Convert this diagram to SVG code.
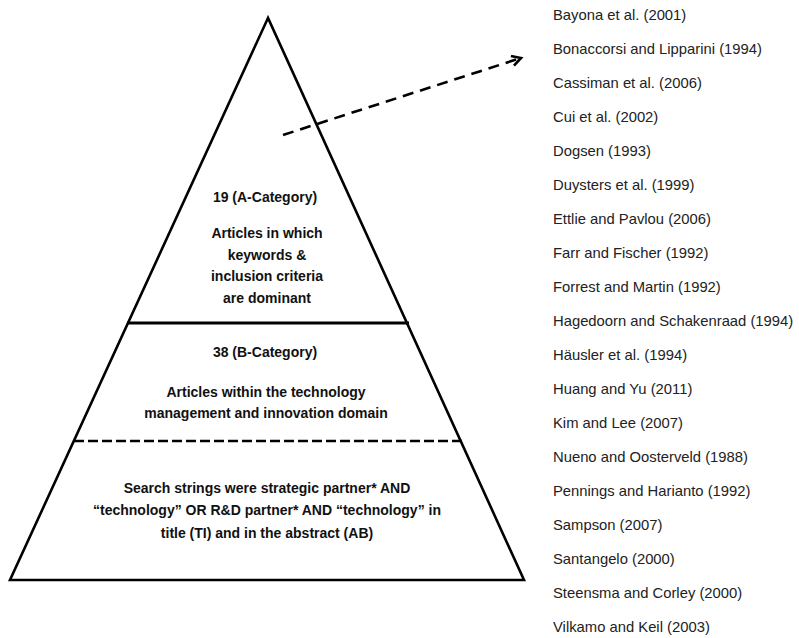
<svg xmlns="http://www.w3.org/2000/svg" width="799" height="638" viewBox="0 0 799 638">
<style>
.pt{font-family:"Liberation Sans",Arial,sans-serif;font-weight:bold;font-size:14px;fill:#111;text-anchor:middle}
.ls{font-family:"Liberation Sans",Arial,sans-serif;font-size:14.8px;fill:#222}
.edge{fill:none;stroke:#000;stroke-width:2.6;stroke-linejoin:miter}
</style>
<defs>
<marker id="ah" markerWidth="16" markerHeight="16" refX="11" refY="6" orient="auto" markerUnits="userSpaceOnUse">
<path d="M2,1 L11,6 L2,11" fill="none" stroke="#000" stroke-width="2.6"/>
</marker>
</defs>
<rect width="799" height="638" fill="#fff"/>
<g id="pyramid">
<polygon class="edge" points="268,18 10,580 524,580"/>
<line x1="127" y1="323" x2="409" y2="323" stroke="#000" stroke-width="3"/>
<line x1="74" y1="441" x2="462" y2="441" stroke="#000" stroke-width="2.6" stroke-dasharray="10,4"/>
</g>
<g id="a-category">
<text class="pt" x="265" y="202">19 (A-Category)</text>
<text class="pt" x="267" y="238">Articles in which</text>
<text class="pt" x="267" y="260">keywords &amp;</text>
<text class="pt" x="267" y="281">inclusion criteria</text>
<text class="pt" x="267" y="303">are dominant</text>
</g>
<g id="b-category">
<text class="pt" x="265" y="357">38 (B-Category)</text>
<text class="pt" x="266" y="397">Articles within the technology</text>
<text class="pt" x="266" y="418">management and innovation domain</text>
</g>
<g id="search">
<text class="pt" x="267" y="493">Search strings were strategic partner* AND</text>
<text class="pt" x="267" y="515">“technology” OR R&amp;D partner* AND “technology” in</text>
<text class="pt" x="267" y="538">title (TI) and in the abstract (AB)</text>
</g>
<g id="connectors">
<line x1="283" y1="135" x2="521" y2="58" stroke="#000" stroke-width="2.6" stroke-dasharray="11,7" marker-end="url(#ah)"/>
</g>
<g id="list">
<text class="ls" x="553" y="20">Bayona et al. (2001)</text>
<text class="ls" x="553" y="54">Bonaccorsi and Lipparini (1994)</text>
<text class="ls" x="553" y="88">Cassiman et al. (2006)</text>
<text class="ls" x="553" y="122">Cui et al. (2002)</text>
<text class="ls" x="553" y="156">Dogsen (1993)</text>
<text class="ls" x="553" y="190">Duysters et al. (1999)</text>
<text class="ls" x="553" y="224">Ettlie and Pavlou (2006)</text>
<text class="ls" x="553" y="258">Farr and Fischer (1992)</text>
<text class="ls" x="553" y="292">Forrest and Martin (1992)</text>
<text class="ls" x="553" y="326">Hagedoorn and Schakenraad (1994)</text>
<text class="ls" x="553" y="360">Häusler et al. (1994)</text>
<text class="ls" x="553" y="394">Huang and Yu (2011)</text>
<text class="ls" x="553" y="428">Kim and Lee (2007)</text>
<text class="ls" x="553" y="462">Nueno and Oosterveld (1988)</text>
<text class="ls" x="553" y="496">Pennings and Harianto (1992)</text>
<text class="ls" x="553" y="530">Sampson (2007)</text>
<text class="ls" x="553" y="564">Santangelo (2000)</text>
<text class="ls" x="553" y="598">Steensma and Corley (2000)</text>
<text class="ls" x="553" y="632">Vilkamo and Keil (2003)</text>
</g>
</svg>
